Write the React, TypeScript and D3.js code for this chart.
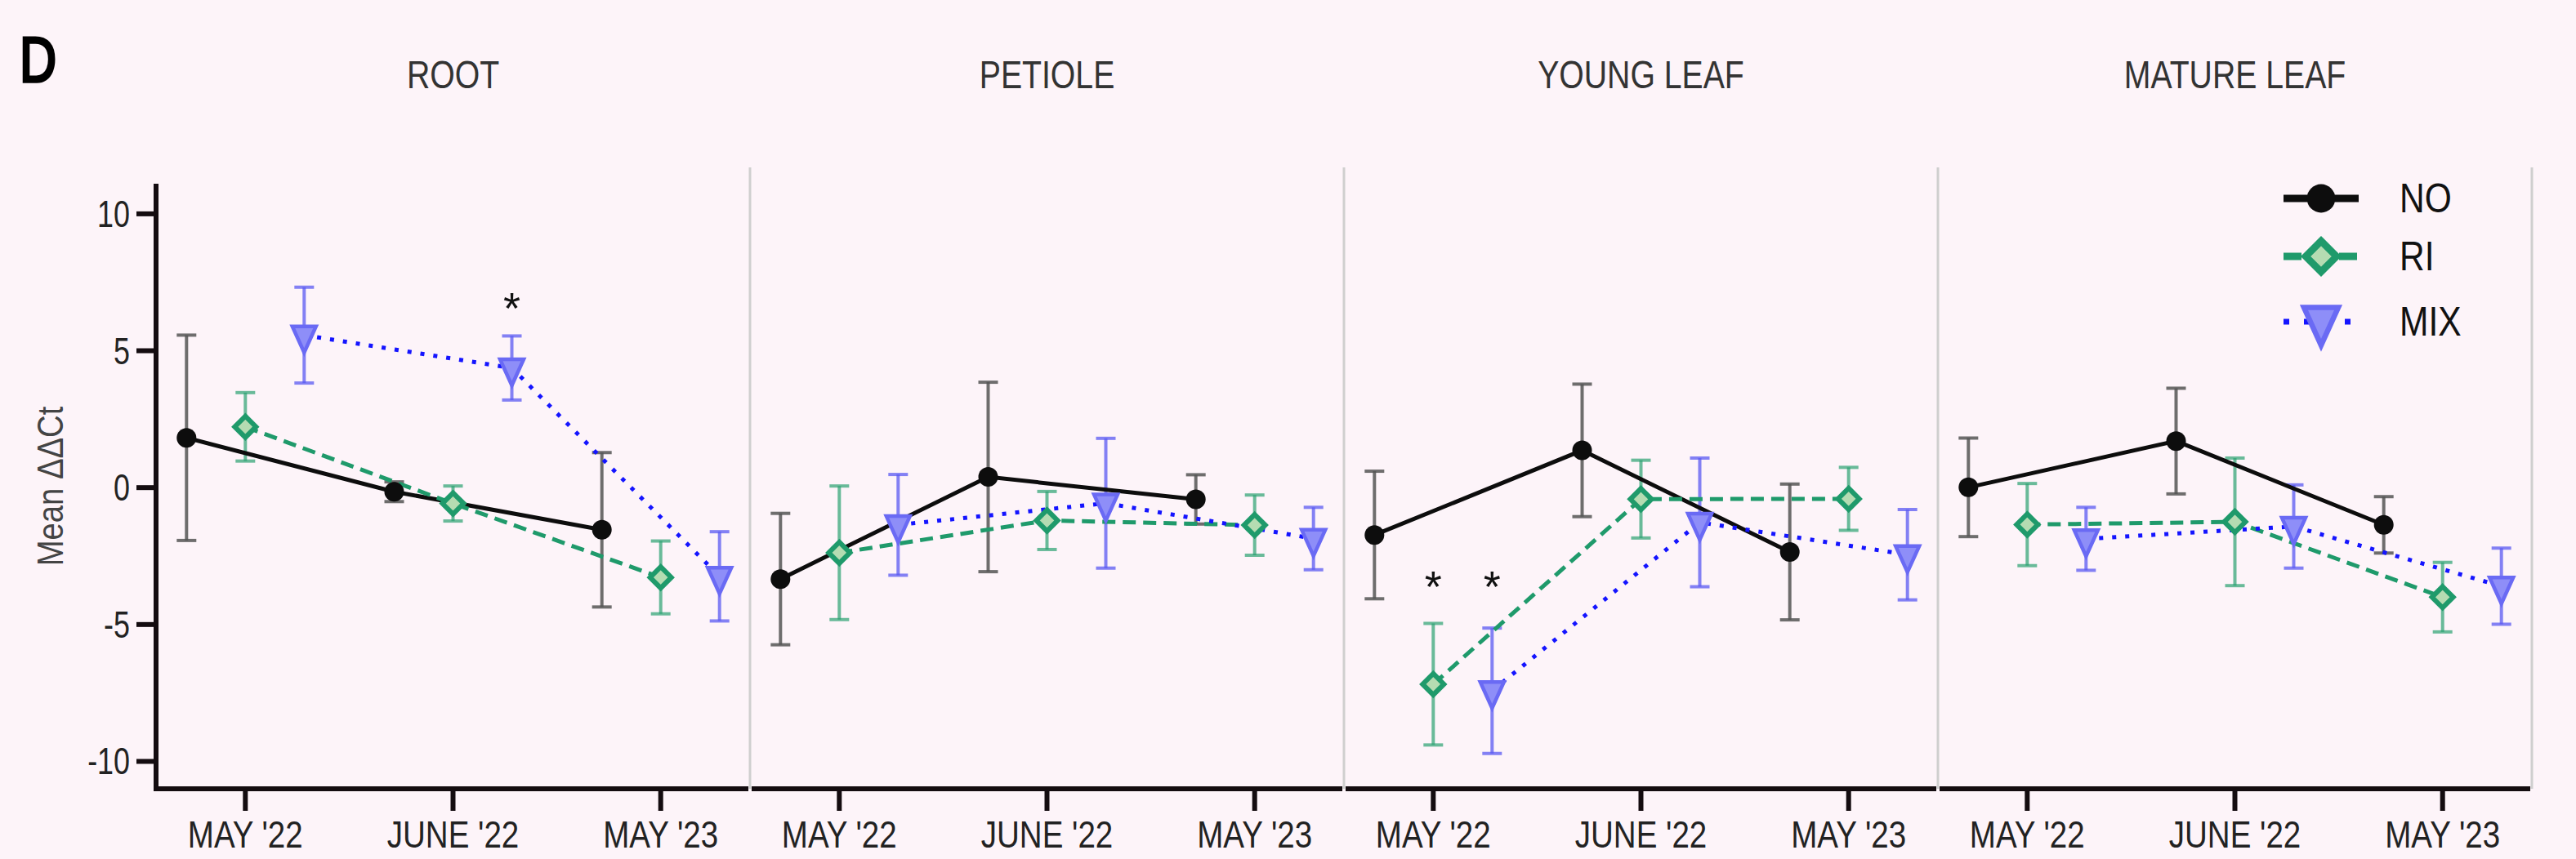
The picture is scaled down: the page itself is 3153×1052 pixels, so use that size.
import React from 'react';
import * as d3 from 'd3';

const panels = ['ROOT', 'PETIOLE', 'YOUNG LEAF', 'MATURE LEAF'];
const dates = ["MAY '22", "JUNE '22", "MAY '23"];
const seriesNames = ['NO', 'RI', 'MIX'];
const yTicks = [-10, -5, 0, 5, 10];

// mean values [panel][date]
const noMean = [[1.82, -0.15, -1.54], [-3.34, 0.39, -0.43], [-1.73, 1.36, -2.35], [0.01, 1.7, -1.36]];
const noErr = [[3.75, 0.36, 2.82], [2.4, 3.46, 0.9], [2.33, 2.42, 2.48], [1.8, 1.93, 1.03]];
const riMean = [[2.22, -0.58, -3.28], [-2.38, -1.2, -1.37], [-7.18, -0.42, -0.41], [-1.35, -1.25, -4.0]];
const riErr = [[1.25, 0.64, 1.33], [2.44, 1.06, 1.1], [2.22, 1.42, 1.15], [1.5, 2.33, 1.27]];
const mixMean = [[5.57, 4.37, -3.24], [-1.36, -0.57, -1.86], [-7.42, -1.27, -2.45], [-1.87, -1.42, -3.6]];
const mixErr = [[1.75, 1.17, 1.63], [1.84, 2.37, 1.14], [2.29, 2.35, 1.65], [1.15, 1.52, 1.39]];

// significance marks: panel, date, series, y position (value)
const sigPanel = ['ROOT', 'YOUNG LEAF', 'YOUNG LEAF'];
const sigDate = ["JUNE '22", "MAY '22", "MAY '22"];
const sigSeries = ['MIX', 'RI', 'MIX'];
const sigY = [6.9, -3.27, -3.27];

const W = 3153;
const H = 1052;
const FONT = '"Liberation Sans", Arial, sans-serif';
const BG = '#fdf4f9';

const seriesData = [
  { name: 'NO', mean: noMean, err: noErr },
  { name: 'RI', mean: riMean, err: riErr },
  { name: 'MIX', mean: mixMean, err: mixErr },
];

const style: Record<string, any> = {
  NO: { line: '#0d0d0d', lw: 5, dash: null, err: '#555555', errOp: 0.85 },
  RI: { line: '#1f9a6b', lw: 5, dash: '16,9', err: '#2aa170', errOp: 0.7 },
  MIX: { line: '#1414ff', lw: 5, dash: '5,11', err: '#5a5af2', errOp: 0.75 },
};

function Marker({ name, x, y, scale = 1 }: { name: string; x: number; y: number; scale?: number }) {
  if (name === 'NO') {
    return <circle cx={x} cy={y} r={12 * scale} fill="#0d0d0d" />;
  }
  if (name === 'RI') {
    const h = 13 * scale;
    return (
      <path
        d={`M${x},${y - h}L${x + h},${y}L${x},${y + h}L${x - h},${y}Z`}
        fill="#b5dcb2"
        stroke="#1f9a6b"
        strokeWidth={6 * scale}
        strokeLinejoin="miter"
      />
    );
  }
  const w = 14.5 * scale;
  const hh = 32 * scale;
  return (
    <path
      d={`M${x - w},${y - hh / 3}L${x + w},${y - hh / 3}L${x},${y + (2 * hh) / 3}Z`}
      fill="#8e8ef8"
      stroke="#6a6af4"
      strokeWidth={4.5 * scale}
      strokeLinejoin="miter"
    />
  );
}

function T({ x, y, text, size, anchor = 'middle', sx = 0.8, fill = '#222', weight = 'normal', rotate = 0, sw = 0 }: any) {
  return (
    <text
      transform={`translate(${x},${y})${rotate ? ` rotate(${rotate})` : ''} scale(${sx},1)`}
      fontFamily={FONT}
      fontSize={size}
      fontWeight={weight}
      textAnchor={anchor}
      fill={fill}
      stroke={sw ? fill : undefined}
      strokeWidth={sw || undefined}
    >
      {text}
    </text>
  );
}

export default function App() {
  const left = 191;
  const right = 3099;
  const top = 225;
  const bottom = 966;

  const panelScale = d3.scaleBand<string>().domain(panels).range([left, right]).paddingInner(0).paddingOuter(0);
  const dateScale = d3.scalePoint<string>().domain(dates).range([0, panelScale.bandwidth()]).padding(0.43);
  const seriesOffset = d3.scalePoint<string>().domain(seriesNames).range([-72, 72]);
  const y = d3.scaleLinear().domain([-11, 11.1]).range([bottom, top]);

  const px = (p: number, d: number, s: string) =>
    (panelScale(panels[p]) as number) + (dateScale(dates[d]) as number) + (seriesOffset(s) as number);

  const line = d3
    .line<[number, number]>()
    .x((d) => d[0])
    .y((d) => d[1]);

  const capW = 12;

  return (
    <svg width={W} height={H} style={{ position: 'absolute', left: 0, top: 0, background: BG }}>
      <rect x={0} y={0} width={W} height={H} fill={BG} />

      {/* panel label */}
      <T x={24} y={100} text="D" size={78} anchor="start" sx={0.8} fill="#000" weight="normal" sw={3.5} />

      {/* panel titles */}
      {panels.map((p) => (
        <T key={p} x={(panelScale(p) as number) + panelScale.bandwidth() / 2} y={108} text={p} size={49} sx={0.8} fill="#333" />
      ))}

      {/* dividers */}
      {panels.map((p) => {
        const xr = (panelScale(p) as number) + panelScale.bandwidth();
        return <line key={p} x1={xr} x2={xr} y1={205} y2={bottom} stroke="#cfcfcf" strokeWidth={3} />;
      })}

      {/* y axis */}
      <line x1={left} x2={left} y1={top} y2={bottom + 3} stroke="#140c10" strokeWidth={6} />
      {yTicks.map((t) => (
        <g key={t}>
          <line x1={left - 24} x2={left} y1={y(t)} y2={y(t)} stroke="#140c10" strokeWidth={6} />
          <T x={159} y={y(t) + 16} text={String(t)} size={46} anchor="end" sx={0.78} fill="#222" />
        </g>
      ))}
      <T x={77} y={(top + bottom) / 2} text="Mean ΔΔCt" size={45} rotate={-90} sx={0.85} fill="#444" />

      {/* x axes per panel */}
      {panels.map((p, i) => {
        const x0 = panelScale(p) as number;
        const x1 = x0 + panelScale.bandwidth();
        return (
          <g key={p}>
            <line x1={i === 0 ? left - 3 : x0 + 2} x2={x1 - 2} y1={bottom} y2={bottom} stroke="#140c10" strokeWidth={6} />
            {dates.map((d) => {
              const tx = x0 + (dateScale(d) as number);
              return (
                <g key={d}>
                  <line x1={tx} x2={tx} y1={bottom} y2={bottom + 27} stroke="#140c10" strokeWidth={6} />
                  <T x={tx} y={1038} text={d} size={47} sx={0.82} fill="#222" />
                </g>
              );
            })}
          </g>
        );
      })}

      {/* error bars */}
      {seriesData.map((s) =>
        panels.map((p, pi) =>
          dates.map((d, di) => {
            const cx = px(pi, di, s.name);
            const m = s.mean[pi][di];
            const e = s.err[pi][di];
            const st = style[s.name];
            return (
              <g key={`${s.name}-${pi}-${di}`} stroke={st.err} strokeOpacity={st.errOp} strokeWidth={4}>
                <line x1={cx} x2={cx} y1={y(m + e)} y2={y(m - e)} />
                <line x1={cx - capW} x2={cx + capW} y1={y(m + e)} y2={y(m + e)} />
                <line x1={cx - capW} x2={cx + capW} y1={y(m - e)} y2={y(m - e)} />
              </g>
            );
          })
        )
      )}

      {/* lines */}
      {seriesData.map((s) =>
        panels.map((p, pi) => {
          const pts = dates.map((d, di) => [px(pi, di, s.name), y(s.mean[pi][di])] as [number, number]);
          const st = style[s.name];
          return (
            <path
              key={`${s.name}-l-${pi}`}
              d={line(pts) as string}
              fill="none"
              stroke={st.line}
              strokeWidth={st.lw}
              strokeDasharray={st.dash || undefined}
            />
          );
        })
      )}

      {/* markers */}
      {seriesData.map((s) =>
        panels.map((p, pi) =>
          dates.map((d, di) => (
            <Marker key={`${s.name}-m-${pi}-${di}`} name={s.name} x={px(pi, di, s.name)} y={y(s.mean[pi][di])} />
          ))
        )
      )}

      {/* significance */}
      {sigPanel.map((p, i) => {
        const pi = panels.indexOf(p);
        const di = dates.indexOf(sigDate[i]);
        const cx = px(pi, di, sigSeries[i]);
        return <T key={i} x={cx} y={y(sigY[i]) + 30} text="*" size={54} sx={1} fill="#111" />;
      })}

      {/* legend */}
      {seriesNames.map((n, i) => {
        const ly = [243, 314, 394][i];
        const st = style[n];
        return (
          <g key={n}>
            <line
              x1={2795}
              x2={2887}
              y1={ly}
              y2={ly}
              stroke={st.line}
              strokeWidth={n === 'MIX' ? 7 : 9}
              strokeDasharray={n === 'NO' ? undefined : n === 'RI' ? '22,12' : '7,18'}
            />
            <Marker name={n} x={2841} y={n === 'MIX' ? ly - 2 : ly} scale={1.45} />
            <T x={2937} y={ly + 17} text={n} size={50} anchor="start" sx={0.85} fill="#111" />
          </g>
        );
      })}
    </svg>
  );
}
